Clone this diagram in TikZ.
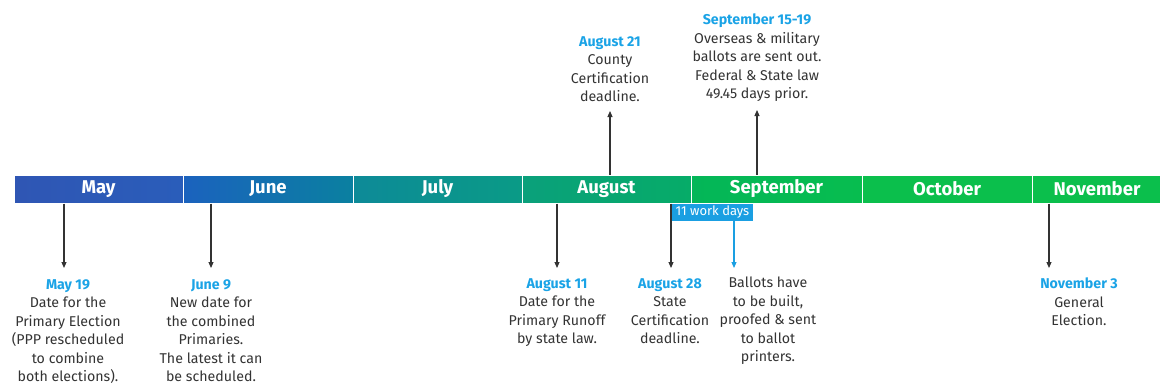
\documentclass[tikz,border=0pt]{standalone}
\usepackage{fontspec}
\setmainfont{Fira Sans}
\usetikzlibrary{arrows.meta}
\definecolor{lblue}{HTML}{1AA3E6}
\definecolor{txtgray}{HTML}{333333}
\definecolor{boxblue}{HTML}{1A9FE2}
\definecolor{mA}{HTML}{2F56B4}
\definecolor{mB}{HTML}{2A5DBA}
\definecolor{jA}{HTML}{1B62BE}
\definecolor{jB}{HTML}{0A80A0}
\definecolor{lA}{HTML}{0D8A98}
\definecolor{lB}{HTML}{0A9B86}
\definecolor{aA}{HTML}{0AA07B}
\definecolor{aB}{HTML}{06AC68}
\definecolor{sA}{HTML}{04B658}
\definecolor{sB}{HTML}{07BD4F}
\definecolor{oA}{HTML}{0BBF4C}
\begin{document}
\begin{tikzpicture}[x=1pt,y=-1pt,
  monthbox/.style={minimum height=28pt,inner sep=0pt,draw=white,line width=1pt,
     text=white,font=\fontsize{18.5}{18.5}\selectfont\bfseries},
  evtxt/.style={align=center,inner sep=0pt,text=txtgray,
     font=\fontsize{14.2}{18.5}\selectfont},
  arr/.style={line width=1.1pt,txtgray,-{Triangle[length=6pt,width=5pt]}},
  barr/.style={line width=1.1pt,boxblue,-{Triangle[length=6pt,width=5pt]}}]
\useasboundingbox (0,0) rectangle (1160,388);
% months
\node[monthbox,minimum width=169pt,left color=mA,right color=mB] (may) at (98.5,189) {May};
\node[monthbox,minimum width=170pt,left color=jA,right color=jB] (jun) at (268,189) {June};
\node[monthbox,minimum width=169pt,left color=lA,right color=lB] (jul) at (437.5,189) {July};
\node[monthbox,minimum width=169pt,left color=aA,right color=aB] (aug) at (606.5,189) {August};
\node[monthbox,minimum width=171pt,left color=sA,right color=sB] (sep) at (776.5,189) {September};
\node[monthbox,minimum width=170pt,fill=oA] (oct) at (947,189) {October};
\node[monthbox,minimum width=130pt,fill=oA] (nov) at (1097,189) {November};
% work days box
\node[fill=boxblue,text=white,inner sep=0pt,minimum width=81pt,minimum height=17pt,
  font=\fontsize{13}{13}\selectfont] (wd) at (712.5,212.5) {11 work days};
% end coordinates
\coordinate (e1) at (64,268);
\coordinate (e2) at (211,268);
\coordinate (e3) at (557,268);
\coordinate (e4) at (671,268);
\coordinate (e5) at (734,268);
\coordinate (e6) at (1049,268);
\coordinate (t1) at (610,111);
\coordinate (t2) at (757,110);
% bottom texts
\node[evtxt,anchor=north] (x1) at (68,279) {\textcolor{lblue}{\bfseries May 19}\\Date for the\\Primary Election\\(PPP rescheduled\\to combine\\both elections).};
\node[evtxt,anchor=north] (x2) at (211,279) {\textcolor{lblue}{\bfseries June 9}\\New date for\\the combined\\Primaries.\\The latest it can\\be scheduled.};
\node[evtxt,anchor=north] (x3) at (557,278) {\textcolor{lblue}{\bfseries August 11}\\Date for the\\Primary Runoff\\by state law.};
\node[evtxt,anchor=north] (x4) at (670,278) {\textcolor{lblue}{\bfseries August 28}\\State\\Certification\\deadline.};
\node[evtxt,anchor=north] (x5) at (768,277) {Ballots have\\to be built,\\proofed \& sent\\to ballot\\printers.};
\node[evtxt,anchor=north] (x6) at (1079,278) {\textcolor{lblue}{\bfseries November 3}\\General\\Election.};
% top texts
\node[evtxt,anchor=south] (y1) at (610,102) {\textcolor{lblue}{\bfseries August 21}\\County\\Certification\\deadline.};
\node[evtxt,anchor=south] (y2) at (757,102) {\textcolor{lblue}{\bfseries September 15-19}\\Overseas \& military\\ballots are sent out.\\Federal \& State law\\49.45 days prior.};
% arrows
\draw[arr] (may.south -| e1) -- (e1);
\draw[arr] (jun.south -| e2) -- (e2);
\draw[arr] (aug.south -| e3) -- (e3);
\draw[arr] (aug.south -| e4) -- (e4);
\draw[barr] (wd.south -| e5) -- (e5);
\draw[arr] (nov.south -| e6) -- (e6);
\draw[arr] (aug.north -| t1) -- (t1);
\draw[arr] (sep.north -| t2) -- (t2);
\end{tikzpicture}
\end{document}
